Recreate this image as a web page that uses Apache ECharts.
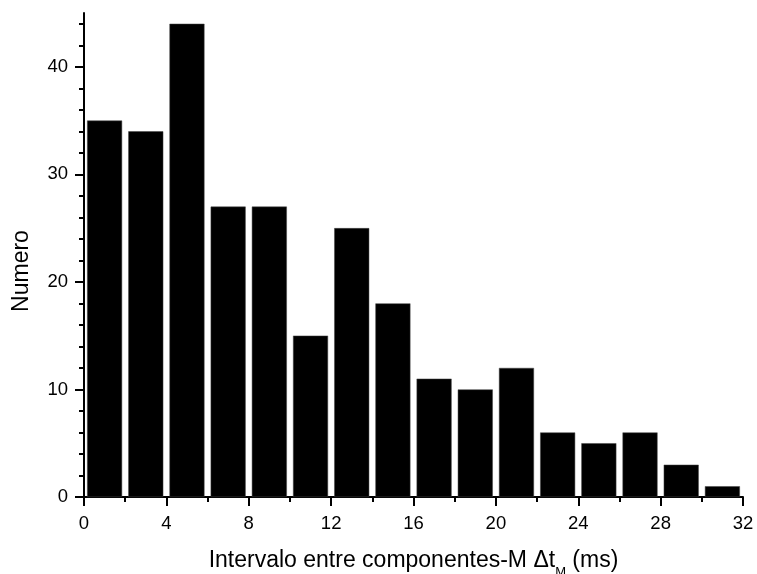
<!DOCTYPE html>
<html>
<head>
<meta charset="utf-8">
<script src="https://cdn.jsdelivr.net/npm/echarts@6/dist/echarts.min.js"></script>
<style>html,body{margin:0;padding:0;background:#fff;}#c{width:757px;height:574px;}</style>
</head>
<body>
<div id="c"></div>
<script>
// Bin centers (ms) and counts
const binCenters = [1, 3, 5, 7, 9, 11, 13, 15, 17, 19, 21, 23, 25, 27, 29, 31];
const counts = [35, 34, 44, 27, 27, 15, 25, 18, 11, 10, 12, 6, 5, 6, 3, 1];
const yMajorTicks = [0, 10, 20, 30, 40];
const yMinorTicks = [2, 4, 6, 8, 12, 14, 16, 18, 22, 24, 26, 28, 32, 34, 36, 38, 42, 44];
const xTitle = 'Intervalo entre componentes-M Δt';
const xTitleSub = 'M';
const xTitleTail = ' (ms)';
const yTitle = 'Numero';

const FONT = '"Liberation Sans", Arial, sans-serif';
const chart = echarts.init(document.getElementById('c'));
const axisLine = {show: true, lineStyle: {color: '#000', width: 2}};
chart.setOption({
  animation: false,
  backgroundColor: '#fff',
  grid: {left: 84, right: 14, top: 13, bottom: 77, containLabel: false, outerBoundsMode: 'none'},
  xAxis: {
    type: 'value', min: 0, max: 32, interval: 4,
    axisLine: axisLine,
    axisTick: {show: true, inside: false, length: 9, lineStyle: {color: '#000', width: 2}},
    minorTick: {show: true, splitNumber: 2, length: 5, lineStyle: {color: '#000', width: 2}},
    splitLine: {show: false},
    axisLabel: {color: '#000', fontSize: 18.5, fontFamily: FONT, margin: 17},
    name: '{a|' + xTitle + '}{sub|' + xTitleSub + '}{a|' + xTitleTail + '}',
    nameLocation: 'middle',
    nameGap: 51,
    nameTextStyle: {
      rich: {
        a: {fontSize: 23, fontFamily: FONT, color: '#000', lineHeight: 26},
        sub: {fontSize: 13, fontFamily: FONT, color: '#000', lineHeight: 13, padding: [22, 0, 0, 0]}
      }
    }
  },
  yAxis: [{
    type: 'value', min: 0, max: 45,
    axisLine: axisLine,
    axisTick: {show: true, inside: false, length: 9, customValues: yMajorTicks, lineStyle: {color: '#000', width: 2}},
    splitLine: {show: false},
    axisLabel: {color: '#000', fontSize: 18.5, fontFamily: FONT, margin: 16, customValues: yMajorTicks}
  }, {
    type: 'value', min: 0, max: 45, position: 'left',
    axisLine: {show: false},
    axisTick: {show: true, inside: false, length: 5, customValues: yMinorTicks, lineStyle: {color: '#000', width: 2}},
    splitLine: {show: false},
    axisLabel: {show: false}
  }],
  graphic: [{
    type: 'text', x: 22, y: 271, rotation: Math.PI / 2,
    style: {text: yTitle, fontSize: 23, fontFamily: FONT, fill: '#000', align: 'center', verticalAlign: 'middle'}
  }],
  series: [{
    type: 'bar',
    data: binCenters.map((c, i) => [c, counts[i]]),
    barWidth: 35,
    itemStyle: {color: '#000', borderColor: '#444', borderWidth: 0.5}
  }]
});
</script>
</body>
</html>
